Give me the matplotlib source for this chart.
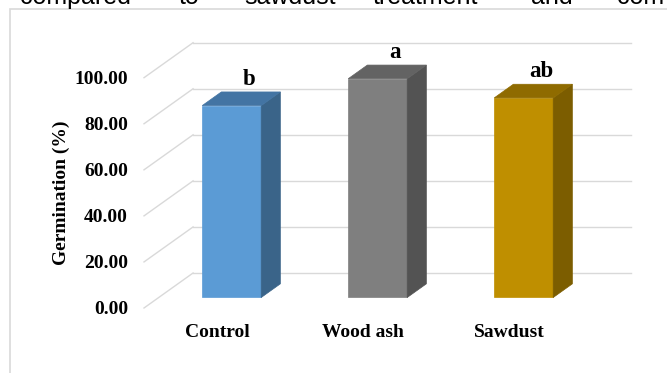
import matplotlib
matplotlib.use("Agg")
import matplotlib.pyplot as plt
from matplotlib.patches import Polygon, Rectangle

# ---- data ----
categories = ["Control", "Wood ash", "Sawdust"]
germination = [83.33, 95.00, 86.67]
letters = ["b", "a", "ab"]
yticks = [0, 20, 40, 60, 80, 100]

# face colours: front, side, top
front_cols = ["#5B9BD5", "#7F7F7F", "#BF8F00"]
side_cols = ["#3A6489", "#535353", "#7C5D00"]
top_cols = ["#4374A3", "#636363", "#8F6B00"]

# sentence fragment running above the chart frame
head_words = ["compared", "to", "sawdust", "treatment", "and", "com"]
head_x = [75, 189, 290, 425, 552, 617]

W, H = 667, 373
fig = plt.figure(figsize=(W / 100, H / 100), dpi=100)

# frame round the chart
fig.patches.append(Rectangle((10 / W, -0.1), 1.2, 1 - 9 / H + 0.1, fill=False,
                             edgecolor="#D9D9D9", linewidth=1.2,
                             transform=fig.transFigure, figure=fig))

for w, x in zip(head_words, head_x):
    fig.text(x / W, 1 - 4 / H, w, ha="left" if w == "com" else "center",
             va="baseline", fontsize=18, family="Liberation Sans", color="black")

# front plane of the 3-D box
ax = fig.add_axes([144 / W, 65 / H, 438 / W, 230.3 / H])
ax.set_xlim(-0.5, 2.5)
ax.set_ylim(0, 100)
for s in ax.spines.values():
    s.set_visible(False)

# oblique depth vector (x in category units, y in value units)
DX, DY = 0.336, 15.2
grid_col = "#D9D9D9"

for v in yticks:
    ax.plot([-0.5, -0.5 + DX], [v, v + DY], color=grid_col, lw=1.0,
            clip_on=False, zorder=0)
    ax.plot([-0.5 + DX, 2.5 + DX], [v + DY, v + DY], color=grid_col, lw=1.0,
            clip_on=False, zorder=0)

bw = 0.404          # bar width
d0, d1 = 0.30, 0.69  # bar depth span as fraction of the box depth
bd = d1 - d0

for i, h in enumerate(germination):
    x0 = i - bw / 2 + d0 * DX
    y0 = d0 * DY
    ddx, ddy = bd * DX, bd * DY
    front = Polygon([(x0, y0), (x0 + bw, y0), (x0 + bw, y0 + h), (x0, y0 + h)],
                    closed=True, facecolor=front_cols[i], edgecolor=front_cols[i],
                    lw=0.5, clip_on=False, zorder=3)
    side = Polygon([(x0 + bw, y0), (x0 + bw + ddx, y0 + ddy),
                    (x0 + bw + ddx, y0 + ddy + h), (x0 + bw, y0 + h)],
                   closed=True, facecolor=side_cols[i], edgecolor=side_cols[i],
                   lw=0.5, clip_on=False, zorder=3)
    top = Polygon([(x0, y0 + h), (x0 + bw, y0 + h), (x0 + bw + ddx, y0 + h + ddy),
                   (x0 + ddx, y0 + h + ddy)],
                  closed=True, facecolor=top_cols[i], edgecolor=top_cols[i],
                  lw=0.5, clip_on=False, zorder=3)
    for p in (front, side, top):
        ax.add_patch(p)
    ax.text(i + (d0 + 0.35) * DX, h + d1 * DY + 3.2, letters[i], ha="center",
            va="baseline", fontsize=16.5, fontweight="bold",
            family="Liberation Serif", clip_on=False, zorder=4)

ax.set_yticks(yticks)
ax.set_yticklabels([f"{v:.2f}" for v in yticks])
ax.set_xticks(range(len(categories)))
ax.set_xticklabels(categories)
ax.tick_params(axis="y", length=0, pad=11.5)
ax.tick_params(axis="x", length=0, pad=11.5)
for lab in ax.get_xticklabels() + ax.get_yticklabels():
    lab.set_family("Liberation Serif")
    lab.set_fontweight("bold")
    lab.set_fontsize(14)

ax.set_ylabel("Germination (%)", family="Liberation Serif", fontweight="bold",
              fontsize=14)
ax.yaxis.set_label_coords(-0.17, 0.5)
ax.patch.set_visible(False)

fig.savefig("out.png", dpi=100)
